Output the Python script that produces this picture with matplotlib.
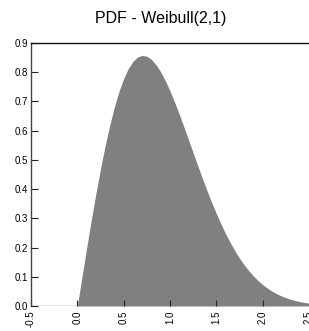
import matplotlib
matplotlib.use("Agg")
import matplotlib.pyplot as plt

# PDF values (x step 0.05 from 0 to 2.5)
x_vals = [0.00, 0.05, 0.10, 0.15, 0.20, 0.25, 0.30, 0.35, 0.40, 0.45,
          0.50, 0.55, 0.60, 0.65, 0.70, 0.75, 0.80, 0.85, 0.90, 0.95,
          1.00, 1.05, 1.10, 1.15, 1.20, 1.25, 1.30, 1.35, 1.40, 1.45,
          1.50, 1.55, 1.60, 1.65, 1.70, 1.75, 1.80, 1.85, 1.90, 1.95,
          2.00, 2.05, 2.10, 2.15, 2.20, 2.25, 2.30, 2.35, 2.40, 2.45, 2.50]
pdf_vals = [0.0, 0.0998, 0.198, 0.2933, 0.3843, 0.4697, 0.5484, 0.6193, 0.6817, 0.7351,
            0.7788, 0.8129, 0.8372, 0.8521, 0.8577, 0.8547, 0.8437, 0.8252, 0.8009, 0.7704,
            0.7358, 0.6973, 0.6563, 0.6128, 0.5687, 0.5240, 0.4797, 0.4361, 0.3942, 0.3541,
            0.3162, 0.2808, 0.2474, 0.2170, 0.1891, 0.1637, 0.1410, 0.1207, 0.1028, 0.0872,
            0.0733, 0.0613, 0.0511, 0.0422, 0.0348, 0.0285, 0.0232, 0.0188, 0.0151, 0.0121,
            0.0096]
neg_x = [-0.5, 0.0]
neg_y = [0.0, 0.0]
x_ticks = [-0.5, 0.0, 0.5, 1.0, 1.5, 2.0, 2.5]
x_ticklabels = ["-0.5", "0.0", "0.5", "1.0", "1.5", "2.0", "2.5"]
y_ticks = [0.0, 0.1, 0.2, 0.3, 0.4, 0.5, 0.6, 0.7, 0.8, 0.9]
y_ticklabels = ["0.0", "0.1", "0.2", "0.3", "0.4", "0.5", "0.6", "0.7", "0.8", "0.9"]
title = "PDF - Weibull(2,1)"

plt.rcParams['font.family'] = ['Liberation Sans', 'DejaVu Sans']

W, H = 309, 331
fig = plt.figure(figsize=(W / 100, H / 100), dpi=100)
ax = fig.add_axes([31.0 / W, 25 / H, (309 - 31.0) / W, (306 - 43) / H])

ax.fill_between(x_vals, 0, pdf_vals, color="#808080", linewidth=0)
ax.plot(neg_x, neg_y, color="#808080", linewidth=1)

ax.set_xlim(-0.5, 2.5)
ax.set_ylim(0.0, 0.9)
ax.set_xticks(x_ticks)
ax.set_xticklabels(x_ticklabels, rotation=90, fontsize=7)
ax.set_yticks(y_ticks)
ax.set_yticklabels(y_ticklabels, fontsize=7)
ax.tick_params(axis='y', direction='in', length=5, width=0.8, pad=2, color='#222222')
ax.tick_params(axis='x', direction='in', length=4, width=0.8, pad=3, color='#222222')

ax.spines['right'].set_visible(False)
ax.spines['bottom'].set_visible(False)
ax.spines['top'].set_color('#111111')
ax.spines['top'].set_linewidth(1.0)
ax.spines['left'].set_color('#444444')
ax.spines['left'].set_linewidth(1.0)

fig.text(161 / W, 1 - 18 / H, title, ha='center', va='center', fontsize=11.5)

fig.savefig("out.png", dpi=100)
